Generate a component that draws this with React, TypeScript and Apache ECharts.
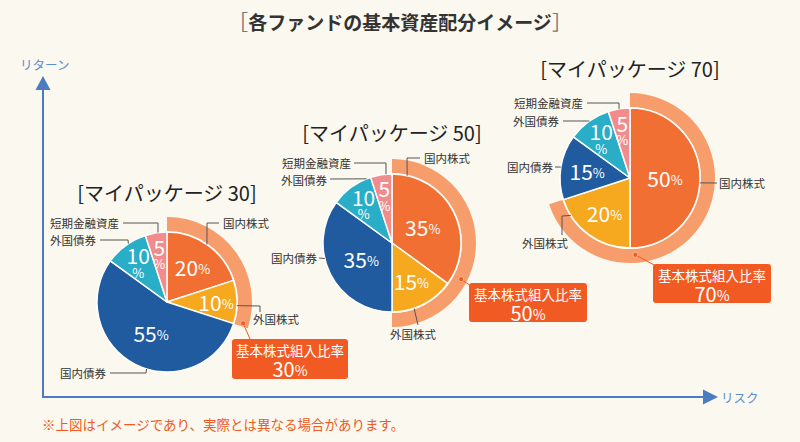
import React, { useEffect, useRef } from "react";
import * as echarts from "echarts";

// ---- data ----
const chartTitle = "各ファンドの基本資産配分イメージ";
const fundNames = ["マイパッケージ 30", "マイパッケージ 50", "マイパッケージ 70"];
const assetClasses = ["国内株式", "外国株式", "国内債券", "外国債券", "短期金融資産"];
const alloc30 = [20, 10, 55, 10, 5];
const alloc50 = [35, 15, 35, 10, 5];
const alloc70 = [50, 20, 15, 10, 5];
const stockRatio = [30, 50, 70];
const calloutLabel = "基本株式組入比率";
const yAxisLabel = "リターン";
const xAxisLabel = "リスク";
const footnote = "※上図はイメージであり、実際とは異なる場合があります。";

const allocations = [alloc30, alloc50, alloc70];

// ---- styling / layout ----
const FONT = '"Noto Sans CJK JP", "Noto Sans", sans-serif';
const BG = "#faf8ef";
const sliceColors = ["#f26f33", "#f6a81e", "#1f5b9e", "#2aaec7", "#f28b8b"];
const RING = "#f79d6c";
const CALLOUT = "#f15a22";
const AXIS = "#4a7cbf";
const LEADER = "#555555";

const pieLayout = [
  { cx: 167, cy: 302, r: 70, titleY: 192 },
  { cx: 392, cy: 243, r: 69, titleY: 132 },
  { cx: 630, cy: 178, r: 70, titleY: 68 },
];

type LL = { slice: number; angle: number; pts: number[][]; tx: number; ty: number; align: string };
const leaderLayout: LL[][] = [
  [
    { slice: 0, angle: 34.8, pts: [[207, 223], [219, 223]], tx: 223, ty: 223, align: "left" },
    { slice: 1, angle: 93, pts: [[260, 306], [260, 312]], tx: 253, ty: 319, align: "left" },
    { slice: 2, angle: 197, pts: [[146, 373], [110, 373]], tx: 106, ty: 373, align: "right" },
    { slice: 3, angle: -33.5, pts: [[128, 240], [100, 240]], tx: 96, ty: 240, align: "right" },
    { slice: 4, angle: -7.4, pts: [[158, 223], [123, 223]], tx: 119, ty: 223, align: "right" },
  ],
  [
    { slice: 0, angle: 12.7, pts: [[407, 158], [420, 158]], tx: 424, ty: 158, align: "left" },
    { slice: 1, angle: 161.3, pts: [[418, 325]], tx: 413, ty: 334, align: "center" },
    { slice: 2, angle: 257, pts: [[319, 258]], tx: 317, ty: 258, align: "right" },
    { slice: 3, angle: -21.6, pts: [[330, 179]], tx: 327, ty: 180, align: "right" },
    { slice: 4, angle: -5, pts: [[386, 163], [354, 163]], tx: 351, ty: 163, align: "right" },
  ],
  [
    { slice: 0, angle: 94, pts: [[717, 183]], tx: 719, ty: 183, align: "left" },
    { slice: 1, angle: 237.7, pts: [[562, 216], [562, 235]], tx: 545, ty: 243, align: "center" },
    { slice: 2, angle: 279, pts: [[555, 167]], tx: 553, ty: 167, align: "right" },
    { slice: 3, angle: -35.5, pts: [[563, 121]], tx: 559, ty: 121, align: "right" },
    { slice: 4, angle: -9, pts: [[619, 103], [587, 103]], tx: 583, ty: 103, align: "right" },
  ],
];

const calloutLayout = [
  { dotAngle: 105.6, dotR: 79, box: [232, 339, 116, 40], lineTo: [250, 339] },
  { dotAngle: 117.6, dotR: 78, box: [469, 283, 118, 39], lineTo: [471, 286] },
  { dotAngle: 176, dotR: 77, box: [653, 264, 118, 39], lineTo: [656, 266] },
];

const rad = (d: number) => (d * Math.PI) / 180;
const polar = (cx: number, cy: number, r: number, deg: number) => [
  cx + r * Math.sin(rad(deg)),
  cy - r * Math.cos(rad(deg)),
];

function midAngle(values: number[], i: number) {
  const total = values.reduce((a, b) => a + b, 0);
  let acc = 0;
  for (let k = 0; k < i; k++) acc += values[k];
  return ((acc + values[i] / 2) / total) * 360;
}

function buildOption() {
  const series: any[] = [];
  const graphic: any[] = [];

  allocations.forEach((values, p) => {
    const L = pieLayout[p];
    series.push({
      type: "pie",
      center: [L.cx, L.cy],
      radius: [L.r + 1, L.r + 15],
      startAngle: 90,
      silent: true,
      label: { show: false },
      labelLine: { show: false },
      z: 1,
      data: [
        { value: stockRatio[p], name: "stock", itemStyle: { color: RING } },
        { value: 100 - stockRatio[p], name: "rest", itemStyle: { color: "rgba(0,0,0,0)" } },
      ],
    });
    series.push({
      type: "pie",
      center: [L.cx, L.cy],
      radius: [0, L.r],
      startAngle: 90,
      clockwise: true,
      avoidLabelOverlap: false,
      z: 2,
      itemStyle: { borderColor: "#ffffff", borderWidth: 1.5 },
      data: values.map((v, i) => ({
        value: v,
        name: assetClasses[i],
        itemStyle: { color: sliceColors[i] },
      })),
      label: {
        show: true,
        position: "inside",
        color: "#ffffff",
        fontFamily: FONT,
        align: "center",
        verticalAlign: "middle",
        formatter: (prm: any) => {
          const m = midAngle(values, prm.dataIndex);
          const stacked = prm.value <= 10 && Math.abs(Math.sin(rad(m))) < 0.9;
          return stacked ? `{s|${prm.value}}\n{q|%}` : `{n|${prm.value}}{p|%}`;
        },
        rich: {
          n: { fontSize: 21, color: "#fff", fontFamily: FONT, lineHeight: 22 },
          p: { fontSize: 13, color: "#fff", fontFamily: FONT, lineHeight: 22, padding: [3, 0, 0, 0] },
          s: { fontSize: 21, color: "#fff", fontFamily: FONT, lineHeight: 20 },
          q: { fontSize: 13, color: "#fff", fontFamily: FONT, lineHeight: 14 },
        },
      },
      labelLine: { show: false },
      labelLayout: (prm: any) => {
        const i = prm.dataIndex;
        const v = values[i];
        const m = midAngle(values, i);
        const f = v <= 10 ? 0.7 : v <= 20 ? 0.62 : 0.5;
        const [x, y] = polar(L.cx, L.cy, L.r * f, m);
        return { x, y, align: "center", verticalAlign: "middle" };
      },
    });

    // fund title
    graphic.push({
      type: "text",
      x: L.cx,
      y: L.titleY,
      style: {
        text: `[${fundNames[p]}]`,
        fontSize: 20,
        fontFamily: FONT,
        fill: "#222222",
        align: "center",
        verticalAlign: "middle",
      },
    });

    // leader lines and labels
    leaderLayout[p].forEach((ll) => {
      const anchor = polar(L.cx, L.cy, L.r, ll.angle);
      graphic.push({
        type: "polyline",
        shape: { points: [anchor, ...ll.pts] },
        style: { stroke: LEADER, lineWidth: 1, fill: null },
        z: 10,
      });
      graphic.push({
        type: "text",
        x: ll.tx,
        y: ll.ty,
        style: {
          text: assetClasses[ll.slice],
          fontSize: 11.5,
          fontFamily: FONT,
          fill: "#333333",
          align: ll.align,
          verticalAlign: "middle",
        },
        z: 10,
      });
    });

    // callout
    const C = calloutLayout[p];
    const dot = polar(L.cx, L.cy, C.dotR, C.dotAngle);
    graphic.push({
      type: "line",
      shape: { x1: dot[0], y1: dot[1], x2: C.lineTo[0], y2: C.lineTo[1] },
      style: { stroke: CALLOUT, lineWidth: 1 },
      z: 10,
    });
    graphic.push({
      type: "circle",
      shape: { cx: dot[0], cy: dot[1], r: 2.5 },
      style: { fill: CALLOUT, stroke: "#fbb89a", lineWidth: 1 },
      z: 11,
    });
    const [bx, by, bw, bh] = C.box;
    graphic.push({
      type: "rect",
      shape: { x: bx, y: by, width: bw, height: bh, r: 3 },
      style: { fill: CALLOUT },
      z: 10,
    });
    graphic.push({
      type: "text",
      x: bx + bw / 2,
      y: by + 11,
      style: {
        text: calloutLabel,
        fontSize: 13.5,
        fontFamily: FONT,
        fill: "#ffffff",
        align: "center",
        verticalAlign: "middle",
      },
      z: 11,
    });
    graphic.push({
      type: "text",
      x: bx + bw / 2,
      y: by + 29,
      style: {
        text: `{n|${stockRatio[p]}}{p|%}`,
        align: "center",
        verticalAlign: "middle",
        rich: {
          n: { fontSize: 20, fontFamily: FONT, fill: "#ffffff" },
          p: { fontSize: 14, fontFamily: FONT, fill: "#ffffff", padding: [3, 0, 0, 0] },
        },
      },
      z: 11,
    });
  });

  // main title
  graphic.push({
    type: "text",
    x: 400,
    y: 21,
    style: {
      text: `{b|［}{t|${chartTitle}}{b|］}`,
      align: "center",
      verticalAlign: "middle",
      rich: {
        b: { fontSize: 20, fontFamily: FONT, fill: "#777777", fontWeight: "normal" },
        t: { fontSize: 19, fontFamily: FONT, fill: "#333333", fontWeight: "bold" },
      },
    },
  });

  // axes
  graphic.push({
    type: "polyline",
    shape: { points: [[43, 88], [43, 397], [704, 397]] },
    style: { stroke: AXIS, lineWidth: 2, fill: null },
  });
  graphic.push({
    type: "polygon",
    shape: { points: [[43, 76], [35.5, 90], [50.5, 90]] },
    style: { fill: AXIS },
  });
  graphic.push({
    type: "polygon",
    shape: { points: [[718, 397], [703, 389.5], [703, 404.5]] },
    style: { fill: AXIS },
  });
  graphic.push({
    type: "text",
    x: 20,
    y: 64,
    style: { text: yAxisLabel, fontSize: 12.5, fontFamily: FONT, fill: "#5b8ecf", align: "left", verticalAlign: "middle" },
  });
  graphic.push({
    type: "text",
    x: 721,
    y: 397,
    style: { text: xAxisLabel, fontSize: 12.5, fontFamily: FONT, fill: "#5b8ecf", align: "left", verticalAlign: "middle" },
  });
  graphic.push({
    type: "text",
    x: 42,
    y: 424,
    style: { text: footnote, fontSize: 13.5, fontFamily: FONT, fill: CALLOUT, align: "left", verticalAlign: "middle" },
  });

  return {
    animation: false,
    backgroundColor: BG,
    series,
    graphic,
  };
}

export default function App() {
  const ref = useRef<HTMLDivElement>(null);
  useEffect(() => {
    if (!ref.current) return;
    const chart = echarts.init(ref.current, undefined, { renderer: "svg" });
    chart.setOption(buildOption() as any);
    return () => chart.dispose();
  }, []);
  return (
    <div
      ref={ref}
      style={{ position: "absolute", left: 0, top: 0, width: 800, height: 442 }}
    />
  );
}
